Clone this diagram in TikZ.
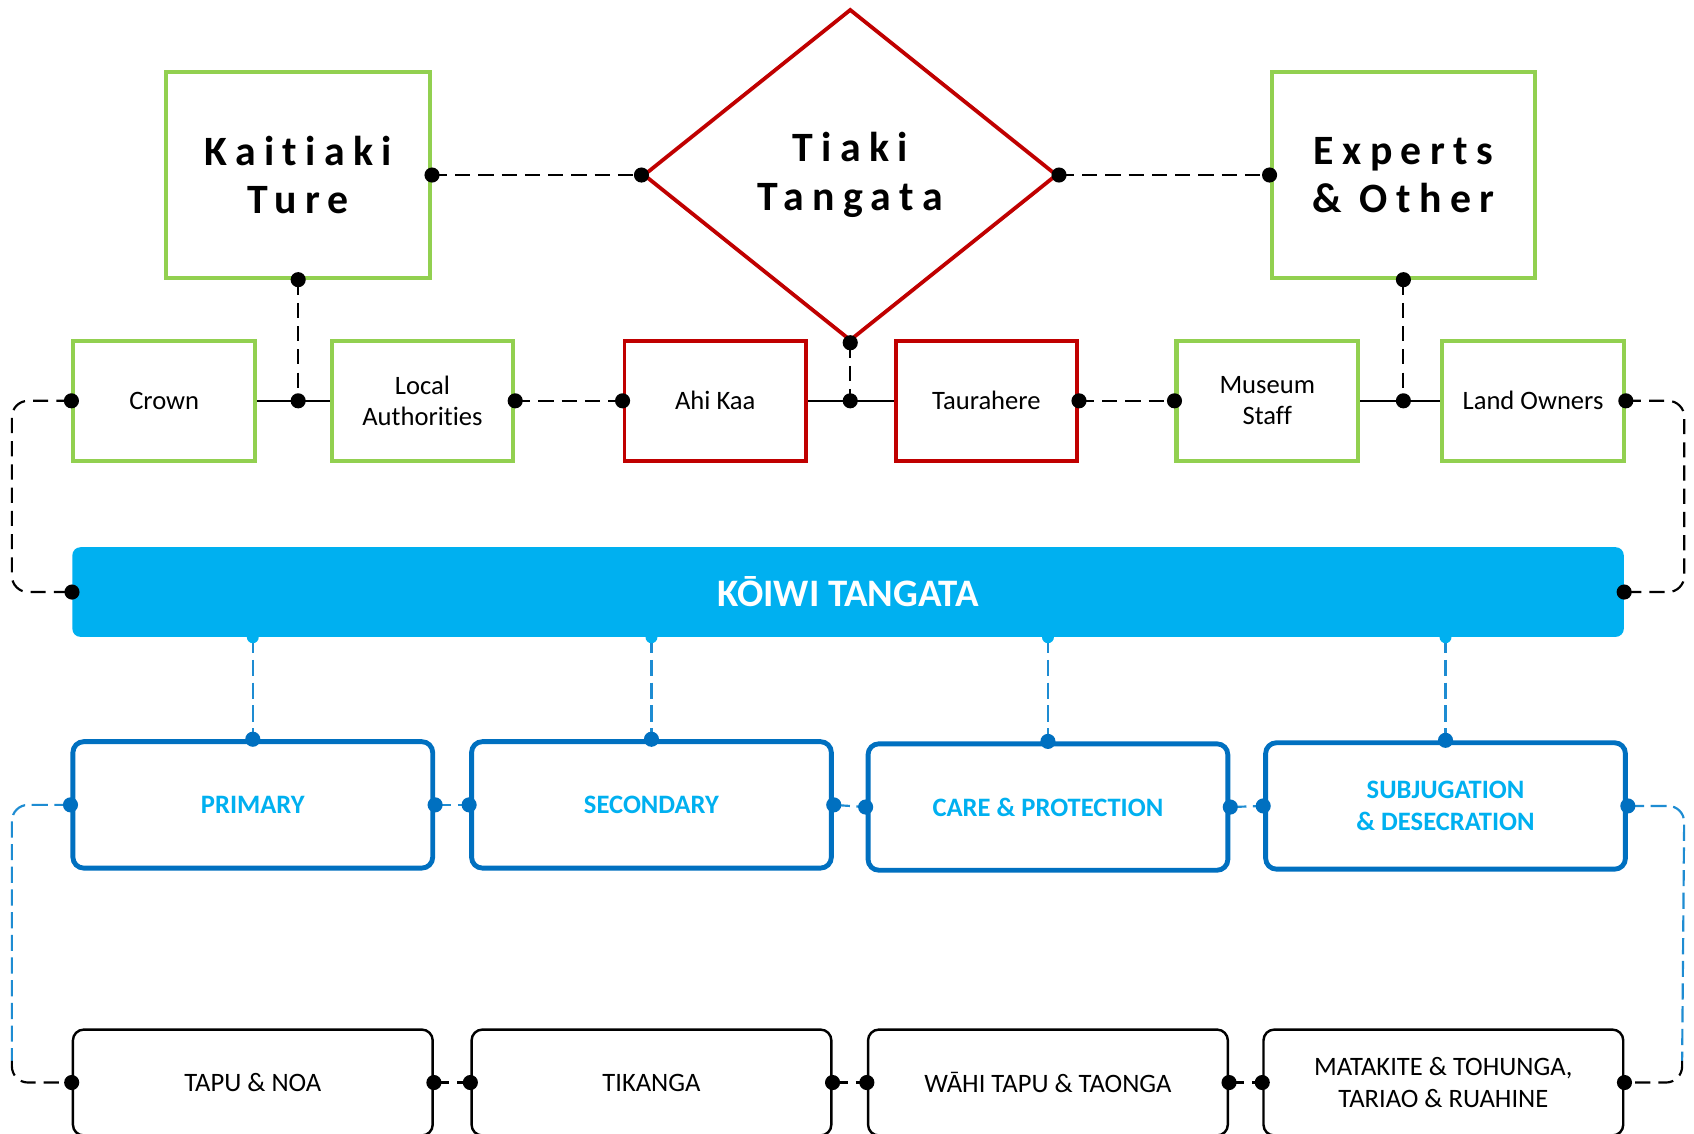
\documentclass[tikz,border=0pt]{standalone}
\usepackage{fontspec}
\setmainfont{Carlito}[Ligatures=NoCommon]
\newfontfamily\spacedfont[LetterSpace=20,Ligatures=NoCommon]{Carlito}
\definecolor{kgreen}{RGB}{146,208,80}
\definecolor{kred}{RGB}{192,0,0}
\definecolor{kcyan}{RGB}{0,176,240}
\definecolor{kblue}{RGB}{0,112,192}
\definecolor{kdash}{RGB}{30,140,210}
\usetikzlibrary{shapes.geometric,calc}

\begin{document}
\begin{tikzpicture}[x=0.2mm, y=-0.2mm,
  bigbox/.style={draw=kgreen, line width=0.75mm, fill=white, minimum width=48.8mm,
    minimum height=38mm, align=center, font=\spacedfont\bfseries\fontsize{22}{25.5}\selectfont},
  grpbox/.style={draw=kgreen, line width=0.75mm, fill=white, minimum width=33.6mm,
    minimum height=22.2mm, align=center, font=\fontsize{14}{16.5}\selectfont},
  redbox/.style={grpbox, draw=kred, line width=0.7mm},
  topicbox/.style={draw=kblue, line width=0.9mm, fill=white, rounded corners=2mm,
    minimum width=66.6mm, minimum height=23.4mm, align=center, text=kcyan,
    font=\bfseries\fontsize{14}{16.5}\selectfont},
  basebox/.style={draw=black, line width=0.45mm, fill=white, rounded corners=2mm,
    minimum width=66.6mm, minimum height=19.6mm, align=center,
    font=\fontsize{14}{17}\selectfont},
  link/.style={draw=black, line width=0.4mm, dash pattern=on 2.8mm off 1.5mm},
  blink/.style={draw=kdash, line width=0.4mm, dash pattern=on 3mm off 1.2mm},
  joint/.style={draw=black, line width=0.4mm}]

\fill[white] (0,0) rectangle (1568,1049);
\useasboundingbox (0,0) rectangle (1568,1049);

% Top groups
\node[bigbox] (kt) at (276,162) {Kaitiaki\\Ture};
\node[diamond, draw=kred, line width=0.7mm, fill=white, minimum width=76.6mm, minimum height=61.4mm,
  inner sep=0pt, align=center, font=\spacedfont\bfseries\fontsize{22}{25.5}\selectfont]
  (tiaki) at (787,162) {Tiaki\\Tangata};
\node[bigbox] (experts) at (1299,162) {Experts\\\& Other};

\node[grpbox] (crown) at (152,371) {Crown};
\node[grpbox] (local) at (391,371) {Local\\Authorities};
\node[redbox] (ahikaa) at (662,371) {Ahi Kaa};
\node[redbox] (taurahere) at (913,371) {Taurahere};
\node[grpbox] (museum) at (1173,371) {Museum\\Staff};
\node[grpbox] (land) at (1419,371) {Land Owners};

% Centre bar
\node[fill=kcyan, rounded corners=1.5mm, minimum width=287.2mm, minimum height=16.6mm,
  text=white, font=\bfseries\fontsize{20.5}{24}\selectfont] (koiwi) at (785,548) {KŌIWI TANGATA};

% Topics
\node[topicbox] (primary) at (234,745) {PRIMARY};
\node[topicbox] (secondary) at (603,745) {SECONDARY};
\node[topicbox] (care) at (970,747) {CARE \& PROTECTION};
\node[topicbox] (subj) at (1338,746) {SUBJUGATION\\\& DESECRATION};

\node[basebox] (tapu) at (234,1002) {TAPU \& NOA};
\node[basebox] (tikanga) at (603,1002) {TIKANGA};
\node[basebox] (wahi) at (970,1002) {WĀHI TAPU \& TAONGA};
\node[basebox] (matakite) at (1336,1002) {MATAKITE \& TOHUNGA,\\TARIAO \& RUAHINE};

\coordinate (lx) at (11,0);
\coordinate (rx) at (1559,0);
\coordinate (lbend) at ($(lx |- tapu.west)+(0,-20)$);
\coordinate (rbend) at ($(rx |- matakite.east)+(-2,-20)$);

% Top links
\draw[link] (kt.east) -- (tiaki.west);
\draw[link] (tiaki.east) -- (experts.west);
\draw[link] (kt.south) -- (kt.south |- crown.east);
\draw[link] (tiaki.south) -- (tiaki.south |- ahikaa.east);
\draw[link] (experts.south) -- (experts.south |- museum.east);
\draw[joint] (crown.east) -- (local.west);
\draw[joint] (ahikaa.east) -- (taurahere.west);
\draw[joint] (museum.east) -- (land.west);
\draw[link] (local.east) -- (ahikaa.west);
\draw[link] (taurahere.east) -- (museum.west);
\draw[link, rounded corners=3mm] (crown.west) -- (lx |- crown.west) -- (lx |- koiwi.west) -- (koiwi.west);
\draw[link, rounded corners=3mm] (land.east) -- (rx |- land.east) -- (rx |- koiwi.east) -- (koiwi.east);

\foreach \p in {kt.east, tiaki.west, tiaki.east, experts.west, kt.south, tiaki.south, experts.south,
  kt.south |- crown.east, tiaki.south |- ahikaa.east, experts.south |- museum.east,
  crown.west, local.east, ahikaa.west, taurahere.east, museum.west, land.east, koiwi.west, koiwi.east}
  \fill (\p) circle (1.4mm);

% Topic links
\foreach \t in {primary, secondary, care, subj} {
  \draw[blink] (koiwi.south -| \t.north) -- (\t.north);
  \fill[kcyan] (koiwi.south -| \t.north) circle (1.1mm);
  \fill[kblue] (\t.north) circle (1.4mm);
}
\draw[blink] (primary.east) -- (secondary.west);
\draw[blink] (secondary.east) -- (care.west);
\draw[blink] (care.east) -- (subj.west);
\draw[blink, rounded corners=3mm] (primary.west) -- (lx |- primary.west) -- (lbend);
\draw[link, rounded corners=3mm] (lbend) -- (lx |- tapu.west) -- (tapu.west);
\draw[blink, rounded corners=3mm] (subj.east) -- (rx |- subj.east) -- (rbend);
\draw[link, rounded corners=3mm] (rbend) -- (rbend |- matakite.east) -- (matakite.east);

\foreach \p in {primary.west, primary.east, secondary.west, secondary.east,
  care.west, care.east, subj.west, subj.east}
  \fill[kblue] (\p) circle (1.4mm);

% Base links
\draw[link] (tapu.east) -- (tikanga.west);
\draw[link] (tikanga.east) -- (wahi.west);
\draw[link] (wahi.east) -- (matakite.west);

\foreach \p in {tapu.west, tapu.east, tikanga.west, tikanga.east,
  wahi.west, wahi.east, matakite.west, matakite.east}
  \fill (\p) circle (1.4mm);

\end{tikzpicture}
\end{document}
